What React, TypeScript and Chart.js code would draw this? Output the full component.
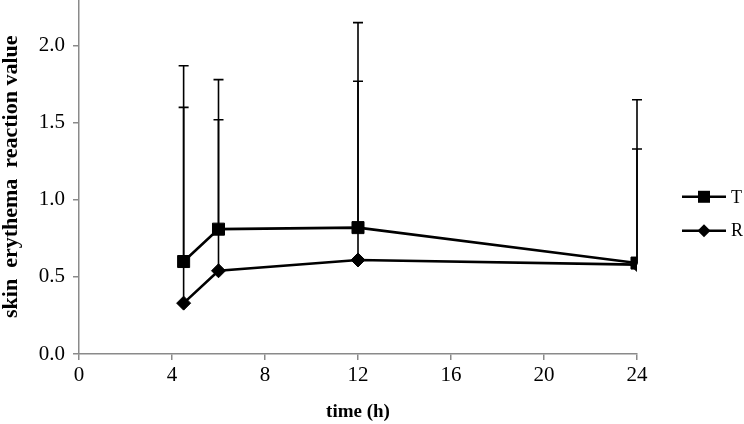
import React, { useEffect, useRef } from "react";
import { Chart, registerables } from "chart.js";

Chart.register(...registerables);

const times = [4.5, 6, 12, 24];
const seriesT = [0.6, 0.81, 0.82, 0.59];
const seriesR = [0.33, 0.54, 0.61, 0.58];
const upperT = [1.87, 1.78, 2.15, 1.65];
const upperR = [1.6, 1.52, 1.77, 1.33];
const xTicks = [0, 4, 8, 12, 16, 20, 24];
const yTicks = [0, 0.5, 1.0, 1.5, 2.0];
const legendLabels = ["T", "R"];

const FONT = '"Liberation Serif", "Times New Roman", serif';
const SHIFT = 10;

const errorBarPlugin = {
  id: "errorBars",
  beforeDatasetsDraw(chart: any) {
    const ctx = chart.ctx;
    const yScale = chart.scales.y;
    chart.data.datasets.forEach((ds: any, di: number) => {
      const meta = chart.getDatasetMeta(di);
      const uppers: number[] = ds.upper;
      ctx.save();
      ctx.strokeStyle = "#000";
      ctx.lineWidth = 1.6;
      meta.data.forEach((pt: any, i: number) => {
        const yu = yScale.getPixelForValue(uppers[i]);
        ctx.beginPath();
        ctx.moveTo(pt.x, pt.y);
        ctx.lineTo(pt.x, yu);
        ctx.moveTo(pt.x - 5, yu);
        ctx.lineTo(pt.x + 5, yu);
        ctx.stroke();
      });
      ctx.restore();
    });
  },
};

const legendPlugin = {
  id: "customLegend",
  afterDraw(chart: any) {
    const ctx = chart.ctx;
    const x0 = chart.chartArea.right + 45;
    const yScale = chart.scales.y;
    const ys = [yScale.getPixelForValue(1.02), yScale.getPixelForValue(0.8)];
    chart.data.datasets.forEach((ds: any, di: number) => {
      const y = ys[di];
      ctx.save();
      ctx.strokeStyle = "#000";
      ctx.lineWidth = 2.6;
      ctx.beginPath();
      ctx.moveTo(x0, y);
      ctx.lineTo(x0 + 44, y);
      ctx.stroke();
      ctx.fillStyle = "#000";
      ctx.beginPath();
      if (ds.pointStyle === "rect") {
        ctx.rect(x0 + 22 - 6, y - 6, 12, 12);
      } else {
        ctx.moveTo(x0 + 22, y - 6.5);
        ctx.lineTo(x0 + 28.5, y);
        ctx.lineTo(x0 + 22, y + 6.5);
        ctx.lineTo(x0 + 15.5, y);
        ctx.closePath();
      }
      ctx.fill();
      ctx.font = `18px ${FONT}`;
      ctx.textBaseline = "middle";
      ctx.textAlign = "left";
      ctx.fillText(legendLabels[di], x0 + 49, y + 1);
      ctx.restore();
    });
  },
};

export default function App() {
  const ref = useRef<HTMLCanvasElement>(null);
  useEffect(() => {
    if (!ref.current) return;
    const chart = new Chart(ref.current, {
      type: "line",
      data: {
        datasets: [
          {
            label: legendLabels[0],
            data: times.map((t, i) => ({ x: t, y: seriesT[i] })),
            upper: upperT,
            borderColor: "#000",
            backgroundColor: "#000",
            borderWidth: 2.6,
            pointStyle: "rect",
            pointRadius: 8.5,
            pointBorderWidth: 1,
            pointBackgroundColor: "#000",
            pointBorderColor: "#000",
            tension: 0,
          } as any,
          {
            label: legendLabels[1],
            data: times.map((t, i) => ({ x: t, y: seriesR[i] })),
            upper: upperR,
            borderColor: "#000",
            backgroundColor: "#000",
            borderWidth: 2.6,
            pointStyle: "rectRot",
            pointRadius: 7,
            pointBorderWidth: 1,
            pointBackgroundColor: "#000",
            pointBorderColor: "#000",
            tension: 0,
          } as any,
        ],
      },
      options: {
        animation: false,
        responsive: false,
        maintainAspectRatio: false,
        layout: { padding: { left: 0, top: 0, right: 107, bottom: 0 } },
        plugins: {
          legend: { display: false },
          tooltip: { enabled: false },
        },
        scales: {
          x: {
            type: "linear",
            min: 0,
            max: 24,
            afterBuildTicks: (s: any) => {
              s.ticks = xTicks.map((v) => ({ value: v }));
            },
            afterFit: (s: any) => {
              s.height = 70;
              s.paddingLeft = 0;
              s.paddingRight = 0;
            },
            ticks: {
              stepSize: 4,
              color: "#000",
              font: { family: FONT, size: 21 },
              padding: 3,
              maxRotation: 0,
            },
            grid: {
              display: true,
              drawOnChartArea: false,
              drawTicks: true,
              tickLength: 6,
              color: "#8a8a8a",
              lineWidth: 1.5,
            },
            border: { display: true, color: "#8a8a8a", width: 1.5 },
            title: {
              display: true,
              text: "time (h)",
              color: "#000",
              font: { family: FONT, size: 19, weight: "bold" },
              padding: { top: 0, bottom: 1 },
            },
          },
          y: {
            type: "linear",
            min: 0,
            max: 2.3,
            afterBuildTicks: (s: any) => {
              s.ticks = yTicks.map((v) => ({ value: v }));
            },
            afterFit: (s: any) => {
              s.width = 79;
              s.paddingTop = 0;
              s.paddingBottom = 0;
            },
            ticks: {
              color: "#000",
              font: { family: FONT, size: 21 },
              padding: 8,
              callback: (v: any) => Number(v).toFixed(1),
            },
            grid: {
              display: true,
              drawOnChartArea: false,
              drawTicks: true,
              tickLength: 6,
              color: "#8a8a8a",
              lineWidth: 1.5,
            },
            border: { display: true, color: "#8a8a8a", width: 1.5 },
            title: {
              display: true,
              text: "skin  erythema  reaction value",
              color: "#000",
              font: { family: FONT, size: 22, weight: "bold" },
              padding: { top: -2, bottom: 0 },
            },
          },
        },
      },
      plugins: [errorBarPlugin, legendPlugin],
    });
    return () => chart.destroy();
  }, []);
  return (
    <div style={{ position: "fixed", left: 0, top: -SHIFT, width: 744, height: 424 + SHIFT, background: "#fff", overflow: "hidden" }}>
      <canvas ref={ref} width={744} height={424 + SHIFT} style={{ width: 744, height: 424 + SHIFT, display: "block" }} />
    </div>
  );
}
